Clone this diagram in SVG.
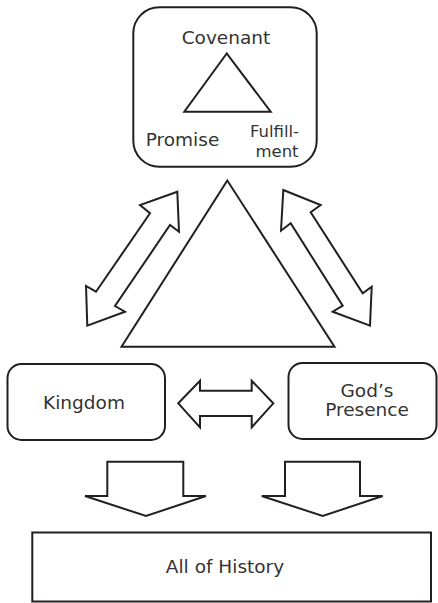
<svg xmlns="http://www.w3.org/2000/svg" width="438" height="603" viewBox="0 0 438 603">
<style>
.s{fill:#fff;stroke:#231f20;stroke-width:2;stroke-linejoin:miter}
.t{font-family:"DejaVu Sans",sans-serif;font-size:18.5px;fill:#333;text-anchor:middle}
</style>
<rect width="438" height="603" fill="#fff"/>
<g id="covenant">
<rect class="s" x="133.3" y="7.3" width="183.4" height="159.4" rx="26"/>
<text class="t" x="226" y="44">Covenant</text>
<polygon class="s" points="226.7,53.5 184.3,111.7 270.7,111.7"/>
<text class="t" x="182.5" y="146">Promise</text>
<text class="t" style="font-size:16.5px"><tspan x="274.5" y="136.5">Fulfill-</tspan><tspan x="277" y="156.5">ment</tspan></text>
</g>
<g id="center-triangle">
<polygon class="s" points="227.3,180.5 121.5,346.7 334.5,346.7"/>
</g>
<g id="kingdom">
<rect class="s" x="7.5" y="364" width="157.5" height="76" rx="14"/>
<text class="t" x="84" y="409">Kingdom</text>
</g>
<g id="gods-presence">
<rect class="s" x="288.5" y="363" width="148" height="76" rx="14"/>
<text class="t"><tspan x="367" y="397">God’s</tspan><tspan x="367" y="416">Presence</tspan></text>
</g>
<g id="all-of-history">
<rect class="s" x="32.3" y="532.5" width="398.7" height="69"/>
<text class="t" x="225" y="573">All of History</text>
</g>
<g id="connectors">
<polygon class="s" points="177.3,191.7 140,205 150,213.3 96,291.7 86,286 87.3,325.7 125,311.7 115,306 170,225 179,231.7"/>
<polygon class="s" points="283.3,190 320.7,205 310.7,212.3 362.7,293.3 371.7,286.7 370,325.7 332.7,311.7 342.7,305.7 290.7,223.3 281,230.7"/>
<polygon class="s" points="178.3,403.3 200,380.7 200,390.7 251.7,390.7 251.7,380.7 273.3,403.3 251.7,427.3 251.7,416 200,416 200,427.3"/>
<polygon class="s" points="107.3,461.7 183.3,461.7 183.3,496 206,496 146,516 85,496 107.3,496"/>
<polygon class="s" points="285,461.7 360,461.7 360,496 382.7,496 322.7,516 261.7,496 285,496"/>
</g>
</svg>
